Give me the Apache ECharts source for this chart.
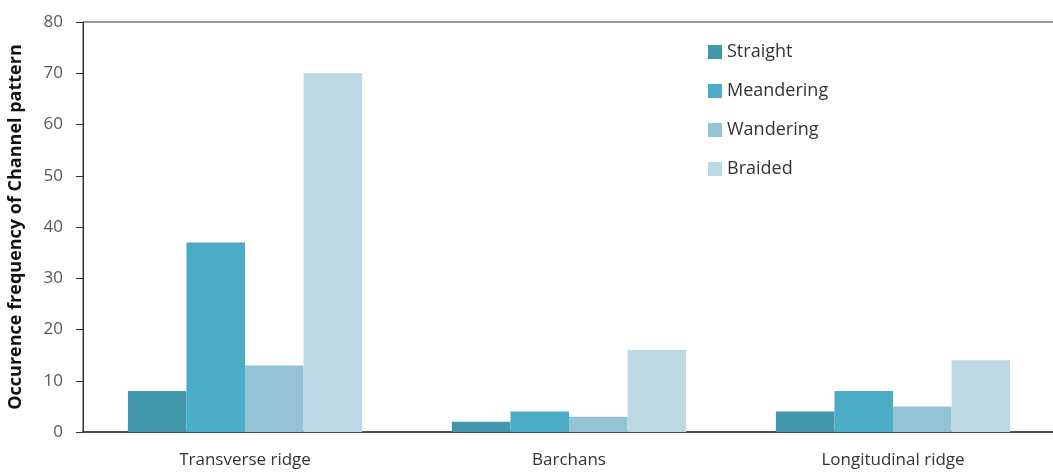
<!DOCTYPE html>
<html>
<head>
<meta charset="utf-8">
<style>
  html, body { margin: 0; padding: 0; background: #fff; }
  #container { width: 1053px; height: 474px; }
</style>
</head>
<body>
<div id="container"></div>
<script src="https://cdn.jsdelivr.net/npm/echarts@6/dist/echarts.min.js"></script>
<script type="text/javascript">
    var categories = ['Transverse ridge', 'Barchans', 'Longitudinal ridge'];
    var seriesNames = ['Straight', 'Meandering', 'Wandering', 'Braided'];
    var straight = [8, 2, 4];
    var meandering = [37, 4, 8];
    var wandering = [13, 3, 5];
    var braided = [70, 16, 14];
    var colors = ['#4397ad', '#4bacc6', '#93c3d5', '#bbd8e3'];

    var allData = [straight, meandering, wandering, braided];
    var series = [];
    for (var i = 0; i < seriesNames.length; i++) {
        series.push({
            name: seriesNames[i],
            type: 'bar',
            barGap: '0%',
            barCategoryGap: '27.7%',
            itemStyle: { color: colors[i] },
            data: allData[i]
        });
    }

    var myChart = echarts.init(document.getElementById('container'));
    var option = {
        animation: false,
        textStyle: { fontFamily: 'Open Sans' },
        grid: {
            left: 83,
            right: -2,
            top: 22,
            bottom: 42,
            outerBoundsMode: 'none',
            show: true,
            borderColor: '#333',
            borderWidth: 1
        },
        legend: {
            orient: 'vertical',
            left: 703,
            top: 38,
            itemWidth: 14,
            itemHeight: 14,
            itemGap: 21,
            icon: 'rect',
            textStyle: { fontSize: 18, color: '#333', lineHeight: 16 },
            data: seriesNames
        },
        xAxis: {
            type: 'category',
            data: categories,
            axisLine: { lineStyle: { color: '#333', width: 1.5 } },
            axisTick: { show: false },
            axisLabel: { fontSize: 17, color: '#333', margin: 20 }
        },
        yAxis: {
            type: 'value',
            min: 0,
            max: 80,
            interval: 10,
            name: 'Occurence frequency of Channel pattern',
            nameLocation: 'middle',
            nameGap: 58,
            nameTextStyle: { fontSize: 18, fontWeight: 'bold', color: '#111' },
            axisLine: { show: true, lineStyle: { color: '#333' } },
            axisTick: { show: true, length: 7, lineStyle: { color: '#333' } },
            axisLabel: { fontSize: 17, color: '#595959', margin: 20 },
            splitLine: { show: false }
        },
        series: series
    };
    myChart.setOption(option, true);
</script>
</body>
</html>
